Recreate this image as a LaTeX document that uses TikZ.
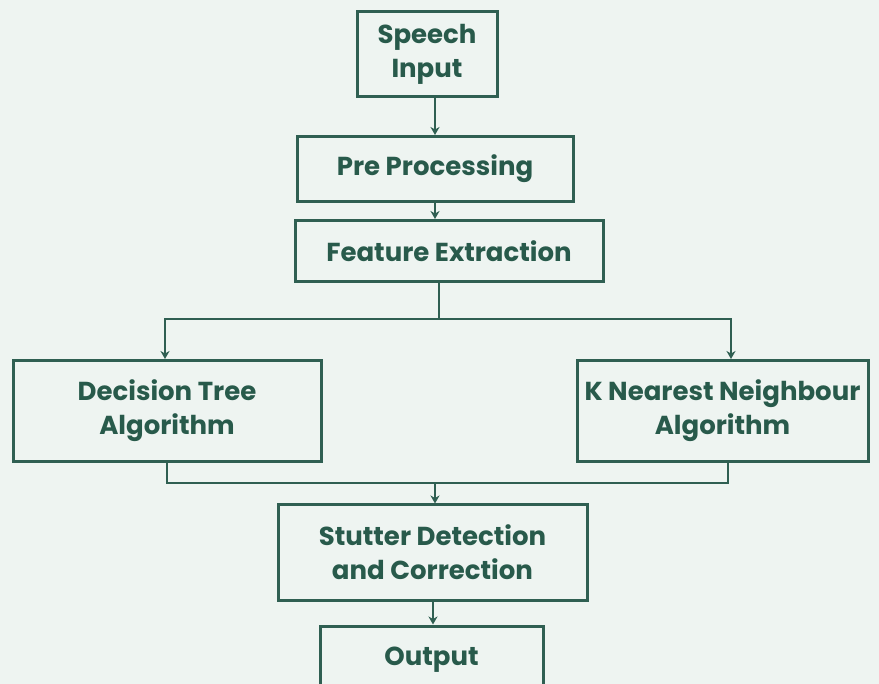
\documentclass[tikz,border=0pt]{standalone}
\usepackage{fontspec}
\setmainfont{Poppins}
\usetikzlibrary{arrows.meta}
\definecolor{bg}{HTML}{EEF4F1}
\definecolor{ln}{HTML}{2F5F52}
\definecolor{tx}{HTML}{285A4B}
\tikzset{
  box/.style={draw=ln, line width=3pt, rectangle, inner sep=0pt, align=center,
    text=tx, font=\fontsize{26}{34}\selectfont\bfseries},
  conn/.style={draw=ln, line width=2.6pt},
  arr/.style={conn, -{Stealth[length=8pt,width=9pt,inset=2.5pt]}}
}
\begin{document}
\begin{tikzpicture}[x=1pt,y=-1pt]
\fill[bg] (0,0) rectangle (879,684);
\useasboundingbox (0,0) rectangle (879,684);
\node[box, minimum width=140pt, minimum height=85pt] (sp) at (427,54.5) {Speech\\Input};
\node[box, minimum width=276pt, minimum height=65pt] (pre) at (435,169) {Pre Processing};
\node[box, minimum width=308pt, minimum height=61pt] (fe) at (449,251) {Feature Extraction};
\node[box, minimum width=308pt, minimum height=101pt] (dt) at (167,411) {Decision Tree\\Algorithm};
\node[box, minimum width=291pt, minimum height=101pt] (knn) at (722.5,411) {K Nearest Neighbour\\Algorithm};
\node[box, minimum width=309pt, minimum height=95pt] (st) at (432.5,552.5) {Stutter Detection\\and Correction};
\node[box, minimum width=223pt, minimum height=68pt] (out) at (431.5,660) {Output};
\coordinate (b1) at (439,319);
\coordinate (b2) at (435,483);
\draw[arr] (sp.south -| 435,0) -- (pre.north -| 435,0);
\draw[arr] (pre.south -| 435,0) -- (fe.north -| 435,0);
\draw[conn] (fe.south -| b1) -- (b1);
\draw[arr] (b1) -| (dt.north -| 165,0);
\draw[arr] (b1) -| (knn.north -| 731,0);
\draw[conn] (dt.south -| 167,0) |- (b2);
\draw[conn] (knn.south -| 728,0) |- (b2);
\draw[arr] (b2) -- (st.north -| b2);
\draw[arr] (st.south -| 433,0) -- (out.north -| 433,0);
\end{tikzpicture}
\end{document}
